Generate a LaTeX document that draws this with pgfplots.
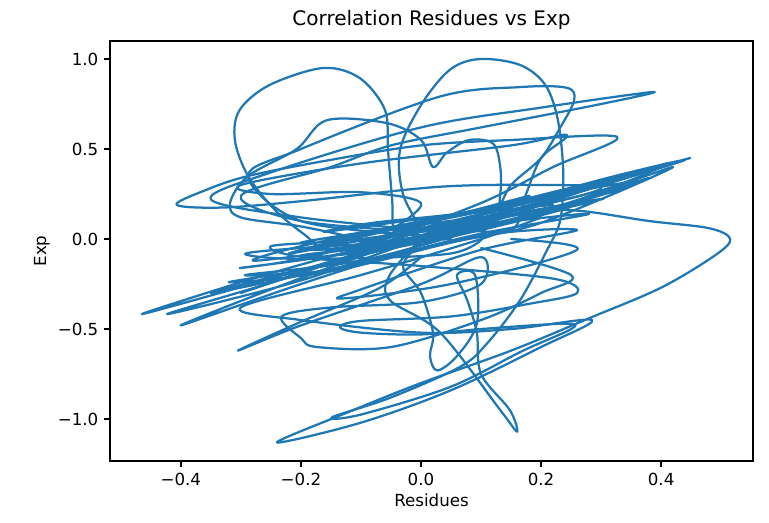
\documentclass[border=0pt]{standalone}
\usepackage{fontspec}
\setmainfont{DejaVu Sans}
\usepackage{pgfplots}
\pgfplotsset{compat=1.18}
\definecolor{mplblue}{HTML}{1F77B4}
\tikzset{trace/.style={mplblue, mark=none, solid, line width=1.35pt, smooth, tension=0.55, line join=round, line cap=round}}
\begin{document}
\begin{tikzpicture}
\path[use as bounding box] (-66pt,-37.2pt) rectangle (395.4pt,276.6pt);
\begin{axis}[
  scale only axis, width=385.8pt, height=252pt,
  xmin=-0.518, xmax=0.553, ymin=-1.233, ymax=1.1,
  title={Correlation Residues vs Exp}, title style={font=\fontsize{12}{14}\selectfont, yshift=-2.5pt},
  xlabel={Residues}, ylabel={Exp},
  label style={font=\fontsize{10}{12}\selectfont},
  xlabel style={yshift=2pt}, ylabel style={yshift=-2pt},
  xtick={-0.4,-0.2,0,0.2,0.4}, xticklabels={−0.4,−0.2,0.0,0.2,0.4},
  ytick={-1,-0.5,0,0.5,1}, yticklabels={−1.0,−0.5,0.0,0.5,1.0},
  tick label style={font=\fontsize{10}{12}\selectfont},
  tick align=outside, major tick length=3.5pt,
  xtick pos=bottom, ytick pos=left,
  axis line style={line width=0.8pt}, every tick/.style={black, line width=0.8pt},
]
% top-left loop and main diagonal strokes
\addplot[trace] coordinates {(-0.002,-0.006) (-0.043,0.022) (-0.048,0.217) (-0.055,0.494) (-0.060,0.717) (-0.102,0.894) (-0.163,0.95) (-0.252,0.856) (-0.302,0.717) (-0.310,0.55) (-0.288,0.35) (-0.243,0.161) (-0.193,0.022) (-0.152,-0.061) (-0.05,0.02) (0.10,0.14) (0.30,0.33) (0.44,0.44) (0.30,0.30) (0.0,0.02) (-0.25,-0.22) (-0.465,-0.417) (-0.25,-0.19) (0.0,0.04) (0.25,0.27) (0.40,0.41) (0.22,0.22) (-0.05,-0.04) (-0.25,-0.28) (-0.40,-0.48) (-0.2,-0.25) (0.05,0.02) (0.3,0.30) (0.448,0.45) (0.25,0.26) (0.0,0.0) (-0.2,-0.23) (-0.423,-0.417) (-0.2,-0.19) (0.0,0.06)};
% dense core
\addplot[trace] coordinates {(0.0,0.06) (0.2,0.22) (0.43,0.43) (0.2,0.2) (-0.1,-0.06) (-0.3,-0.16) (-0.2,-0.11) (0.0,0.05) (0.25,0.2) (0.36,0.32) (0.2,0.23) (0.0,0.1) (-0.2,-0.04) (-0.28,-0.12) (-0.15,-0.07) (0.05,0.03) (0.3,0.22) (0.2,0.16) (0.0,0.02) (-0.15,-0.14) (-0.32,-0.24) (-0.15,-0.18) (0.05,-0.02) (0.2,0.09) (0.42,0.40) (0.2,0.15) (0.0,-0.02) (-0.18,-0.10) (-0.25,-0.04) (-0.1,0.0) (0.1,0.1) (0.25,0.18) (0.1,0.05) (-0.1,-0.09) (-0.35,-0.30) (-0.1,-0.13) (0.1,0.03) (0.28,0.14) (0.1,0.08) (-0.1,0.0) (-0.2,-0.02) (-0.05,0.06) (0.1,0.12)};
\addplot[trace] coordinates {(0.1,0.12) (0.3,0.27) (0.41,0.42) (0.25,0.25) (0.05,0.08) (-0.12,-0.02) (-0.22,-0.08) (-0.08,0.04) (0.12,0.18) (0.34,0.36) (0.15,0.19) (-0.05,0.05) (-0.18,-0.06) (-0.05,-0.01) (0.15,0.11) (0.38,0.34) (0.18,0.13) (-0.02,0.0) (-0.12,-0.05) (0.0,0.08) (0.18,0.24) (0.08,0.15) (-0.08,0.09) (-0.16,0.04) (0.02,0.12) (0.22,0.19)};
% top-middle loop down to the bottom-left loop
\addplot[trace] coordinates {(0.0,0.06) (-0.03,0.25) (-0.035,0.494) (0.0,0.744) (0.048,0.94) (0.098,1.0) (0.165,0.967) (0.207,0.856) (0.228,0.661) (0.237,0.367) (0.232,0.106) (0.21,-0.061) (0.165,-0.34) (0.11,-0.58) (0.065,-0.71) (-0.05,-0.88) (-0.148,-0.99) (-0.10,-0.975) (0.05,-0.82) (0.17,-0.62) (0.25,-0.50) (0.24,-0.47) (0.10,-0.50) (0.0,-0.53) (-0.10,-0.52) (-0.135,-0.49) (-0.10,-0.455) (0.05,-0.43) (0.18,-0.36) (0.26,-0.30) (0.22,-0.22) (0.0,-0.15) (-0.2,-0.1) (-0.1,-0.05) (0.05,0.05)};
% right loop and lower spike
\addplot[trace] coordinates {(0.1,0.05) (-0.1,-0.08) (-0.3,-0.3) (-0.1,-0.08) (0.0,0.0) (0.15,0.13) (0.25,0.16) (0.38,0.10) (0.48,0.06) (0.515,0.0) (0.49,-0.09) (0.40,-0.27) (0.28,-0.44) (0.15,-0.62) (0.0,-0.80) (-0.12,-0.96) (-0.24,-1.13) (-0.10,-1.02) (0.05,-0.84) (0.20,-0.60) (0.285,-0.45) (0.15,-0.50) (0.0,-0.52) (-0.2,-0.45) (-0.3,-0.38) (-0.1,-0.2) (0.1,0.0) (0.2,0.12)};
% left upper spike and right upper spikes
\addplot[trace] coordinates {(-0.1,-0.05) (0.1,0.2) (0.22,0.40) (0.327,0.567) (0.15,0.55) (0.0,0.52) (-0.15,0.44) (-0.288,0.35) (-0.36,0.27) (-0.407,0.19) (-0.33,0.175) (-0.2,0.21) (0.03,0.29) (0.2,0.30) (0.30,0.28) (0.15,0.15) (-0.1,-0.02)};
\addplot[trace] coordinates {(0.0,0.02) (-0.2,0.1) (-0.288,0.35) (-0.20,0.50) (0.03,0.79) (0.165,0.844) (0.243,0.84) (0.255,0.77) (0.232,0.62) (0.20,0.45) (0.15,0.30) (0.12,0.14) (0.05,0.06)};
\addplot[trace] coordinates {(0.0,0.05) (-0.2,0.12) (-0.35,0.22) (-0.25,0.37) (0.0,0.62) (0.2,0.73) (0.387,0.817) (0.3,0.75) (0.1,0.62) (-0.05,0.52) (-0.15,0.40) (-0.3,0.24) (-0.2,0.1) (0.0,0.04)};
\addplot[trace] coordinates {(-0.1,0.0) (-0.2,0.07) (-0.3,0.12) (-0.318,0.2) (-0.288,0.35) (-0.207,0.5) (-0.157,0.66) (-0.057,0.644) (0.0,0.55) (0.02,0.4) (0.043,0.48) (0.08,0.55) (0.12,0.53) (0.132,0.4) (0.132,0.25) (0.12,0.1) (0.05,0.03)};
\addplot[trace] coordinates {(0.05,0.06) (0.15,0.05) (0.175,0.25) (0.2,0.45) (0.243,0.578) (0.15,0.52) (-0.1,0.42) (-0.3,0.30) (-0.25,0.25) (-0.1,0.26) (0.0,0.2) (-0.05,0.05)};
% bottom thin loops
\addplot[trace] coordinates {(0.0,0.0) (-0.052,-0.2) (-0.052,-0.339) (0.032,-0.52) (0.132,-0.95) (0.16,-1.07) (0.148,-0.95) (0.10,-0.75) (0.093,-0.52) (0.077,-0.34) (0.06,-0.2) (0.09,-0.2) (0.093,-0.47) (0.06,-0.65) (0.027,-0.73) (0.015,-0.65) (0.02,-0.52) (0.0,-0.3) (-0.03,-0.15) (0.0,-0.02)};
% lower-left spikes and ellipses
\addplot[trace] coordinates {(0.0,-0.1) (-0.068,-0.27) (-0.2,-0.46) (-0.305,-0.62) (-0.2,-0.48) (0.0,-0.25) (0.1,-0.1) (0.1,-0.25) (0.0,-0.35) (-0.15,-0.38) (-0.232,-0.43) (-0.2,-0.55) (-0.173,-0.6) (-0.05,-0.6) (0.1,-0.45) (0.2,-0.3) (0.25,-0.2) (0.1,-0.05)};
\addplot[trace] coordinates {(0.05,0.0) (-0.2,-0.05) (-0.293,-0.083) (-0.2,-0.11) (0.05,-0.08) (0.1,0.05) (-0.1,-0.12) (-0.293,-0.2) (-0.15,-0.17) (0.1,0.02) (0.26,0.05) (0.1,-0.06) (-0.1,-0.28) (-0.13,-0.33) (0.05,-0.25) (0.26,-0.06) (0.15,0.0)};
\end{axis}
\end{tikzpicture}
\end{document}
